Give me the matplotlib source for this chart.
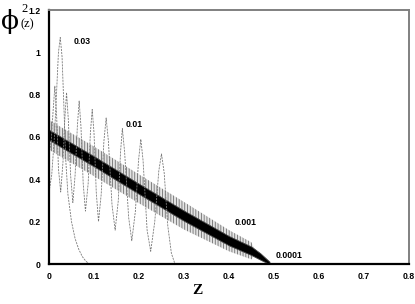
import matplotlib
matplotlib.use("Agg")
import matplotlib.pyplot as plt
import numpy as np

# ---- data ----
# eps = 0.03 curve
z_003 = [0, 0.006, 0.012, 0.017, 0.021, 0.025, 0.029, 0.033, 0.037, 0.042, 0.05, 0.058, 0.066, 0.074, 0.082, 0.09]
v_003 = [0.34, 0.42, 0.60, 0.82, 1.00, 1.07, 0.98, 0.75, 0.50, 0.33, 0.20, 0.12, 0.07, 0.035, 0.013, 0.0]

# eps = 0.01 curve
z_001 = [0, 0.005, 0.009, 0.013, 0.017, 0.021, 0.026, 0.031, 0.035, 0.039, 0.043, 0.048, 0.053,
         0.058, 0.063, 0.067, 0.071, 0.076, 0.081, 0.087, 0.092, 0.096, 0.100, 0.105, 0.110,
         0.116, 0.122, 0.127, 0.132, 0.140, 0.147, 0.154, 0.159, 0.163, 0.168, 0.177, 0.184,
         0.192, 0.199, 0.204, 0.209, 0.218, 0.226, 0.235, 0.244, 0.250, 0.256, 0.264, 0.272, 0.280]
v_001 = [0.52, 0.58, 0.72, 0.84, 0.70, 0.45, 0.34, 0.48, 0.68, 0.81, 0.68, 0.42, 0.29,
         0.42, 0.65, 0.77, 0.65, 0.38, 0.25, 0.38, 0.62, 0.73, 0.62, 0.34, 0.20,
         0.33, 0.58, 0.69, 0.58, 0.28, 0.16, 0.30, 0.53, 0.64, 0.53, 0.22, 0.11,
         0.25, 0.49, 0.59, 0.49, 0.16, 0.06, 0.20, 0.44, 0.52, 0.43, 0.18, 0.05, 0.0]

# eps = 0.001 band (center and half-width of the fast oscillation)
z_0001 = [0, 0.1, 0.2, 0.3, 0.4, 0.45, 0.46]
c_0001 = [0.61, 0.485, 0.355, 0.228, 0.11, 0.062, 0.05]
w_0001 = [0.07, 0.07, 0.068, 0.065, 0.05, 0.04, 0.0]

# eps = 0.0001 band
z_00001 = [0, 0.1, 0.2, 0.3, 0.4, 0.45, 0.47, 0.49]
c_00001 = [0.61, 0.485, 0.355, 0.228, 0.11, 0.062, 0.035, 0.005]
w_00001 = [0.024, 0.024, 0.024, 0.024, 0.022, 0.02, 0.015, 0.006]

labels = ["0.03", "0.01", "0.001", "0.0001"]
label_pos = [(0.073, 1.053), (0.189, 0.657), (0.438, 0.198), (0.533, 0.038)]

xticks = [0, 0.1, 0.2, 0.3, 0.4, 0.5, 0.6, 0.7, 0.8]
xticklabels = ["0", "0.1", "0.2", "0.3", "0.4", "0.5", "0.6", "0.7", "0.8"]
yticks = [0, 0.2, 0.4, 0.6, 0.8, 1.0, 1.2]
yticklabels = ["0", "0.2", "0.4", "0.6", "0.8", "1", "1.2"]

plt.rcParams['hatch.linewidth'] = 0.6
plt.rcParams['font.family'] = ['Liberation Sans', 'DejaVu Sans']

fig = plt.figure(figsize=(4.15, 3.04), dpi=100)
ax = fig.add_axes([49/415, 40/304, 360/415, 254/304])

# grey hatched band (0.001)
zb = np.array(z_0001); cb = np.array(c_0001); wb = np.array(w_0001)
ax.fill_between(zb, cb - wb, cb + wb, facecolor='#e4e4e4', linewidth=0)
ax.fill_between(zb, cb - wb, cb + wb, facecolor='none', edgecolor='#6e6e6e',
                hatch='||||||', linewidth=0)

# black band (0.0001)
zk = np.array(z_00001); ck = np.array(c_00001); wk = np.array(w_00001)
ax.fill_between(zk, ck - wk, ck + wk, facecolor='black', edgecolor='#444444', linewidth=0.6)

# dashed curves
ax.plot(z_001, v_001, color='#7a7a7a', lw=0.6, ls=(0, (2.5, 1.2)))
ax.plot(z_003, v_003, color='#7a7a7a', lw=0.6, ls=(0, (2.5, 1.2)))

for t, (x, y) in zip(labels, label_pos):
    ax.text(x, y, t, fontsize=6.2, fontweight='bold', ha='center', va='center')

ax.set_xlim(0, 0.8)
ax.set_ylim(0, 1.2)
ax.set_xticks(xticks)
ax.set_xticklabels(xticklabels)
ax.set_yticks(yticks)
ax.set_yticklabels(yticklabels)
ax.tick_params(length=0, labelsize=6.2, pad=6)
for lab in ax.get_xticklabels() + ax.get_yticklabels():
    lab.set_fontweight('bold')

for s in ['left', 'bottom']:
    ax.spines[s].set_color('black')
    ax.spines[s].set_linewidth(1.6)
for s in ['top', 'right']:
    ax.spines[s].set_color('#808080')
    ax.spines[s].set_linewidth(1.4)

# axis labels
fig.text(10/415, 1 - 21/304, "ϕ", fontsize=19, family='DejaVu Serif', ha='center', va='center')
fig.text(25/415, 1 - 9/304, "2", fontsize=9, family='Liberation Serif', ha='center', va='center')
fig.text(27/415, 1 - 24/304, "(z)", fontsize=9, family='Liberation Serif', ha='center', va='center')
fig.text(197/415, 1 - 291/304, "Z", fontsize=11, family='Liberation Serif', fontweight='bold',
         ha='center', va='center')

fig.savefig("out.png", dpi=100)
